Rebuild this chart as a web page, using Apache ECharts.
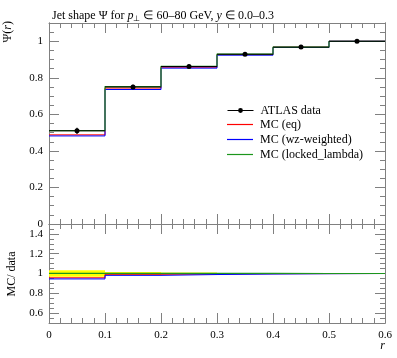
<!DOCTYPE html>
<html>
<head>
<meta charset="utf-8">
<script src="https://cdn.jsdelivr.net/npm/echarts@6/dist/echarts.min.js"></script>
<style>
html,body{margin:0;padding:0;background:#fff;}
#c{width:397px;height:358px;}
</style>
</head>
<body>
<div id="c"></div>
<script>
// ---- data ----
var binEdges = [0, 0.1, 0.2, 0.3, 0.4, 0.5, 0.6];
var atlasData = [0.510, 0.750, 0.862, 0.929, 0.968, 1.000];
var atlasErr  = [0.017, 0.012, 0.009, 0.004, 0.002, 0.001];
var mcEq      = [0.488, 0.744, 0.858, 0.927, 0.967, 1.000];
var mcWz      = [0.482, 0.736, 0.853, 0.924, 0.966, 1.000];
var mcLocked  = [0.511, 0.752, 0.863, 0.930, 0.968, 1.000];
var yMainTicks = [0, 0.2, 0.4, 0.6, 0.8, 1];
var yRatioTicks = [0.6, 0.8, 1, 1.2, 1.4];
var xTicks = [0, 0.1, 0.2, 0.3, 0.4, 0.5, 0.6];

var FONT = 'Liberation Serif';
var AX = '#808080';
var GREEN = '#1c961c';

function stepData(vals){
  var d = [];
  for (var i = 0; i < vals.length; i++) d.push([binEdges[i], vals[i]]);
  d.push([binEdges[vals.length], vals[vals.length-1]]);
  return d;
}
function ratio(vals){
  return vals.map(function(v,i){ return v / atlasData[i]; });
}
function dataBars(){
  var d = [];
  for (var i = 0; i < atlasData.length; i++){
    var xc = (binEdges[i] + binEdges[i+1]) / 2;
    d.push({value:[binEdges[i], atlasData[i]], symbol:'none'});
    d.push({value:[xc, atlasData[i]]});
    d.push({value:[binEdges[i+1], atlasData[i]], symbol:'none'});
    d.push('-');
  }
  return d;
}
var errData = atlasData.map(function(v,i){
  return [(binEdges[i]+binEdges[i+1])/2, v-atlasErr[i], v+atlasErr[i]];
});
var bandData = atlasData.map(function(v,i){
  return [binEdges[i], binEdges[i+1], 1-atlasErr[i]/v, 1+atlasErr[i]/v];
});
var ones = atlasData.map(function(){ return 1; });

function fmtTicks(list){
  return function(v){
    for (var i = 0; i < list.length; i++) if (Math.abs(v - list[i]) < 1e-6) return String(list[i]);
    return '';
  };
}

var labelStyle = {color:'#000', fontFamily:FONT, fontSize:11};

function xAxis(grid, pos, showLabel){
  return {
    type:'value', gridIndex:grid, position:pos, min:0, max:0.6, interval:0.1,
    axisLine:{show:true, onZero:false, lineStyle:{color:AX, width:1}},
    axisTick:{show:true, inside:true, length:10, lineStyle:{color:AX}},
    minorTick:{show:true, splitNumber:5, length:5, lineStyle:{color:AX}},
    splitLine:{show:false}, minorSplitLine:{show:false},
    axisLabel:{show:showLabel, margin:7, formatter:fmtTicks(xTicks), textStyle:labelStyle}
  };
}
function yAxisMajor(grid, pos, min, max, interval, showLabel, ticks){
  var a = {
    type:'value', gridIndex:grid, position:pos, min:min, max:max,
    axisLine:{show:true, onZero:false, lineStyle:{color:AX, width:1}},
    axisTick:{show:true, inside:true, length:10, lineStyle:{color:AX}},
    minorTick:{show:false},
    splitLine:{show:false},
    axisLabel:{show:showLabel, margin:6, showMinLabel: min===0, showMaxLabel:false,
      formatter:fmtTicks(ticks), textStyle:labelStyle}
  };
  if (interval) a.interval = interval; else a.splitNumber = 5;
  return a;
}
function yAxisMinor(grid, pos, min, max){
  return {
    type:'value', gridIndex:grid, position:pos, min:min, max:max, interval:0.05,
    axisLine:{show:true, onZero:false, lineStyle:{color:AX, width:1}},
    axisTick:{show:true, inside:true, length:5, lineStyle:{color:AX}},
    splitLine:{show:false}, axisLabel:{show:false}
  };
}

var legendText = {color:'#000', fontFamily:FONT, fontSize:12, padding:[0,0,0,2]};

var chart = echarts.init(document.getElementById('c'), null, {renderer:'canvas'});
var option = {
  animation:false,
  backgroundColor:'#fff',
  title:{
    left:47, top:4,
    text:'Jet shape Ψ for {i|p}{s|⊥} ∈ 60–80 GeV, {i|y} ∈ 0.0–0.3',
    textStyle:{color:'#000', fontFamily:FONT, fontSize:12, fontWeight:'normal',
      rich:{
        i:{fontStyle:'italic', fontFamily:FONT, fontSize:12, color:'#000'},
        s:{fontFamily:FONT, fontSize:8, color:'#000', verticalAlign:'bottom', padding:[6,0,0,0]}
      }}
  },
  grid:[
    {left:49, top:23, width:336, height:201},
    {left:49, top:224, width:336, height:99}
  ],
  legend:[
    {orient:'vertical', left:227, top:104.5, padding:0, itemWidth:26, itemHeight:6, itemGap:3,
      lineStyle:{width:1}, textStyle:legendText, data:['ATLAS data']},
    {orient:'vertical', left:227, top:118.5, padding:0, itemWidth:26, itemHeight:1.2, itemGap:3,
      textStyle:legendText,
      data:[{name:'MC (eq)', icon:'rect'}, {name:'MC (wz-weighted)', icon:'rect'}, {name:'MC (locked_lambda)', icon:'rect'}]}
  ],
  xAxis:[ xAxis(0,'bottom',false), xAxis(0,'top',false), xAxis(1,'bottom',true), xAxis(1,'top',false) ],
  yAxis:[
    yAxisMajor(0,'left',0,1.1,0.2,true,yMainTicks),
    yAxisMinor(0,'left',0,1.1),
    yAxisMajor(0,'right',0,1.1,0.2,false,yMainTicks),
    yAxisMinor(0,'right',0,1.1),
    yAxisMajor(1,'left',0.5,1.5,null,true,yRatioTicks),
    yAxisMinor(1,'left',0.5,1.5),
    yAxisMajor(1,'right',0.5,1.5,null,false,yRatioTicks),
    yAxisMinor(1,'right',0.5,1.5)
  ],
  graphic:[
    {type:'text', x:8, y:21, rotation:Math.PI/2,
      style:{text:'Ψ({i|r})', fill:'#000', font:'12px "Liberation Serif"', align:'right', verticalAlign:'middle',
        rich:{i:{fontStyle:'italic', fontFamily:FONT, fontSize:12, fill:'#000'}}}},
    {type:'text', x:12, y:274, rotation:Math.PI/2,
      style:{text:'MC/ data', fill:'#000', font:'12px "Liberation Serif"', align:'center', verticalAlign:'middle'}},
    {type:'text', x:385, y:346,
      style:{text:'r', fill:'#000', font:'italic 12px "Liberation Serif"', align:'right', verticalAlign:'middle'}}
  ],
  series:[
    {name:'MC (eq)', type:'line', xAxisIndex:0, yAxisIndex:0, step:'end', symbol:'none',
      data:stepData(mcEq), color:'#ff0000', itemStyle:{color:'#ff0000'}, lineStyle:{color:'#ff0000', width:1}, z:2},
    {name:'MC (wz-weighted)', type:'line', xAxisIndex:0, yAxisIndex:0, step:'end', symbol:'none',
      data:stepData(mcWz), color:'#0000ff', itemStyle:{color:'#0000ff'}, lineStyle:{color:'#0000ff', width:1}, z:3},
    {name:'MC (locked_lambda)', type:'line', xAxisIndex:0, yAxisIndex:0, step:'end', symbol:'none',
      data:stepData(mcLocked), color:GREEN, itemStyle:{color:GREEN}, lineStyle:{color:GREEN, width:1.2}, z:4},
    {name:'ATLAS data', type:'line', xAxisIndex:0, yAxisIndex:0, symbol:'circle', symbolSize:5, showSymbol:true,
      connectNulls:false, data:dataBars(), color:'#000',
      itemStyle:{color:'#000'}, lineStyle:{color:'#000', width:1}, z:5},
    {name:'_err', type:'custom', xAxisIndex:0, yAxisIndex:0, data:errData, z:6,
      renderItem:function(params, api){
        var p1 = api.coord([api.value(0), api.value(1)]);
        var p2 = api.coord([api.value(0), api.value(2)]);
        return {type:'line', shape:{x1:p1[0], y1:p1[1], x2:p2[0], y2:p2[1]}, style:{stroke:'#000', lineWidth:1.2}};
      }},
    // ratio panel
    {name:'_band', type:'custom', xAxisIndex:2, yAxisIndex:4, data:bandData, z:1, clip:true,
      renderItem:function(params, api){
        var a = api.coord([api.value(0), api.value(3)]);
        var b = api.coord([api.value(1), api.value(2)]);
        return {type:'rect', shape:{x:a[0], y:a[1], width:b[0]-a[0], height:b[1]-a[1]}, style:{fill:'#ffff00'}};
      }},
    {name:'_rdata', type:'line', xAxisIndex:2, yAxisIndex:4, step:'end', symbol:'none',
      data:stepData(ones), lineStyle:{color:'#000', width:1}, z:2},
    {name:'_req', type:'line', xAxisIndex:2, yAxisIndex:4, step:'end', symbol:'none',
      data:stepData(ratio(mcEq)), lineStyle:{color:'#ff0000', width:1}, z:3},
    {name:'_rwz', type:'line', xAxisIndex:2, yAxisIndex:4, step:'end', symbol:'none',
      data:stepData(ratio(mcWz)), lineStyle:{color:'#0000ff', width:1}, z:4},
    {name:'_rlocked', type:'line', xAxisIndex:2, yAxisIndex:4, step:'end', symbol:'none',
      data:stepData(ratio(mcLocked)), lineStyle:{color:GREEN, width:1.2}, z:5}
  ]
};
chart.setOption(option);
</script>
</body>
</html>
